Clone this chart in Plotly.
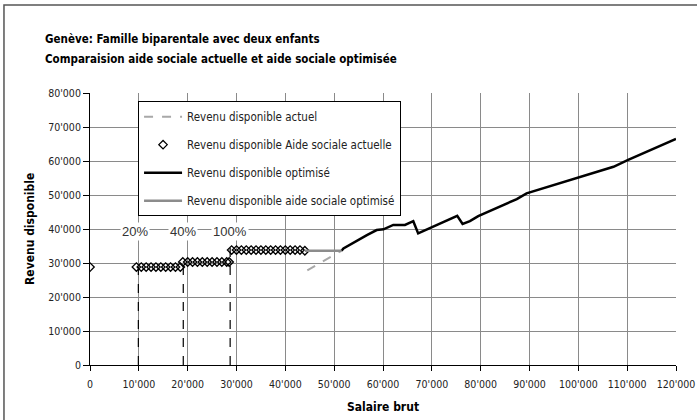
import plotly.graph_objects as go

# Revenu disponible actuel (visible dashed part)
actuel_x = [44500, 51500]
actuel_y = [27800, 33600]

# Revenu disponible Aide sociale actuelle (markers)
aide_x = [0,
          9500, 10500, 11500, 12500, 13500, 14500, 15500, 16500, 17500, 18500,
          19000, 20000, 21000, 22000, 23000, 24000, 25000, 26000, 27000, 28000, 28500,
          29000, 30000, 31000, 32000, 33000, 34000, 35000, 36000, 37000, 38000,
          39000, 40000, 41000, 42000, 43000, 44000]
aide_y = [28800,
          28800, 28800, 28800, 28800, 28800, 28800, 28800, 28800, 28800, 28800,
          30300, 30300, 30300, 30300, 30300, 30300, 30300, 30300, 30300, 30300, 30300,
          33800, 33800, 33800, 33800, 33800, 33800, 33800, 33800, 33800, 33800,
          33800, 33800, 33800, 33800, 33800, 33600]

# Revenu disponible optimisé
opt_x = [51500, 51900, 56700, 58700, 60100, 62100, 64500, 66200, 67200, 70300,
         73400, 75200, 76300, 77800, 79500, 82600, 87400, 89400, 92800, 98300,
         107200, 110200, 120000]
opt_y = [33600, 34300, 38200, 39700, 39900, 41200, 41200, 42300, 38700, 40700,
         42900, 43900, 41500, 42300, 43800, 45800, 48800, 50500, 52000, 54400,
         58300, 60300, 66500]

# Revenu disponible aide sociale optimisé
aso_x = [44000, 51500]
aso_y = [33600, 33600]

# seuils
seuil_x = [9900, 19100, 28700]
seuil_top = [28800, 30900, 34500]
seuil_labels = ["20%", "40%", "100%"]
seuil_label_y = 39200

tick_vals_y = [0, 10000, 20000, 30000, 40000, 50000, 60000, 70000, 80000]
tick_text_y = ["0", "10'000", "20'000", "30'000", "40'000", "50'000", "60'000", "70'000", "80'000"]
tick_vals_x = [0, 10000, 20000, 30000, 40000, 50000, 60000, 70000, 80000, 90000, 100000, 110000, 120000]
tick_text_x = ["0", "10'000", "20'000", "30'000", "40'000", "50'000", "60'000", "70'000", "80'000",
               "90'000", "100'000", "110'000", "120'000"]

narrow = "DejaVu Sans Condensed, sans-serif"

fig = go.Figure()

fig.add_trace(go.Scatter(x=actuel_x, y=actuel_y, mode="lines", name="Revenu disponible actuel",
                         line=dict(color="#a8a8a8", width=2, dash="dash"), legendgroup="a"))
fig.add_trace(go.Scatter(x=aide_x, y=aide_y, mode="markers", name="Revenu disponible Aide sociale actuelle",
                         marker=dict(symbol="diamond-open", size=6.5, color="black", line=dict(width=1.3)),
                         legendgroup="b"))
fig.add_trace(go.Scatter(x=opt_x, y=opt_y, mode="lines", name="Revenu disponible optimisé",
                         line=dict(color="black", width=2.5), legendgroup="c"))
fig.add_trace(go.Scatter(x=aso_x, y=aso_y, mode="lines", name="Revenu disponible aide sociale optimisé",
                         line=dict(color="#8c8c8c", width=2.5), legendgroup="d"))

for sx, st in zip(seuil_x, seuil_top):
    fig.add_trace(go.Scatter(x=[sx, sx], y=[0, st], mode="lines", showlegend=False,
                             line=dict(color="black", width=1.2, dash="dash"), hoverinfo="skip"))

for sx, lab in zip(seuil_x, seuil_labels):
    fig.add_annotation(x=sx, y=seuil_label_y, text=lab, showarrow=False, bgcolor="white",
                       xshift=-3 if lab == "20%" else 0,
                       font=dict(family="Liberation Sans, Arial, sans-serif", size=13, color="#333"))

fig.add_annotation(xref="paper", yref="paper", x=-0.0805, y=1.1985, xanchor="left", yanchor="middle",
                   text="<b>Genève: Famille biparentale avec deux enfants</b>", showarrow=False,
                   font=dict(family=narrow, size=11.5, color="black"))
fig.add_annotation(xref="paper", yref="paper", x=-0.0805, y=1.125, xanchor="left", yanchor="middle",
                   text="<b>Comparaision aide sociale actuelle et aide sociale optimisée</b>", showarrow=False,
                   font=dict(family=narrow, size=11.5, color="black"))

# titres des axes
fig.add_annotation(xref="paper", yref="paper", x=0.5, y=-0.154, xanchor="center", yanchor="middle",
                   text="<b>Salaire brut</b>", showarrow=False,
                   font=dict(family=narrow, size=12, color="black"))
fig.add_annotation(xref="paper", yref="paper", x=-0.1024, y=0.5, xanchor="center", yanchor="middle",
                   text="<b>Revenu disponible</b>", showarrow=False, textangle=-90,
                   font=dict(family=narrow, size=12, color="black"))

# cadre du graphique
fig.add_shape(type="rect", xref="paper", yref="paper", x0=-0.1468, y0=-0.4, x1=1.2, y1=1.3235,
              line=dict(color="#555", width=1.5), fillcolor="rgba(0,0,0,0)", layer="below")

fig.update_layout(
    width=697, height=420,
    margin=dict(l=90, r=21, t=93, b=55),
    plot_bgcolor="white", paper_bgcolor="white",
    font=dict(family=narrow, size=10, color="#222"),
    legend=dict(x=0.082, y=0.97, xanchor="left", yanchor="top", bgcolor="white",
                bordercolor="black", borderwidth=1, traceorder="grouped", tracegroupgap=9,
                font=dict(family=narrow, size=11.5, color="#222"), itemwidth=38),
    xaxis=dict(range=[0, 120000], tickvals=tick_vals_x, ticktext=tick_text_x,
               showgrid=True, gridcolor="#8a8a8a", gridwidth=1,
               showline=True, linecolor="black", linewidth=1, automargin=False,
               ticks="outside", ticklen=5, tickcolor="black", ticklabelstandoff=4,
               zeroline=False, tickfont=dict(size=10.5)),
    yaxis=dict(range=[0, 80000], tickvals=tick_vals_y, ticktext=tick_text_y,
               showgrid=True, gridcolor="#8a8a8a", gridwidth=1,
               showline=True, linecolor="black", linewidth=1, automargin=False,
               ticks="outside", ticklen=6, tickcolor="black", zeroline=False,
               tickfont=dict(size=10.5)),
)

fig.write_html("out.html", config={"displayModeBar": False},
               post_script="document.body.style.margin='0px';")
